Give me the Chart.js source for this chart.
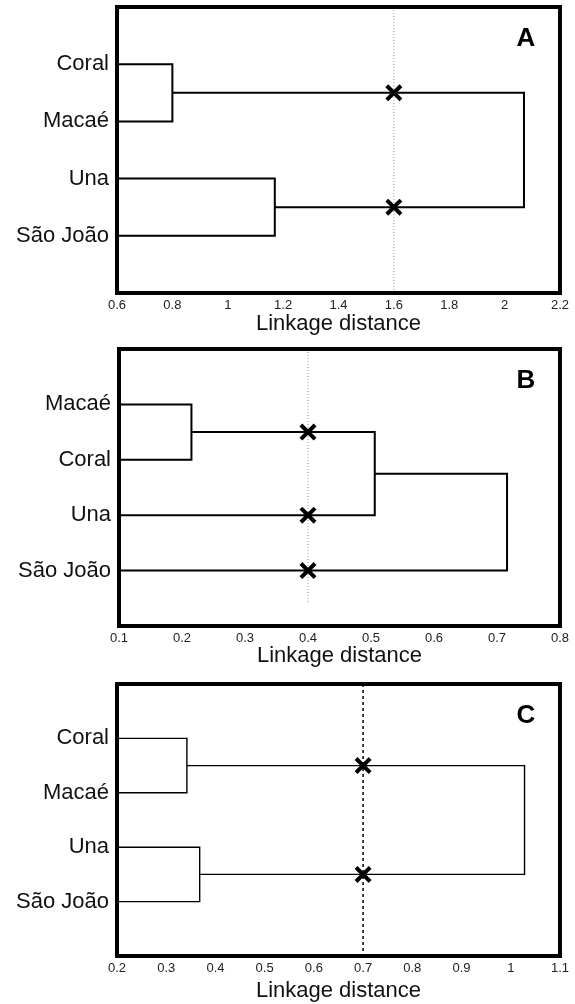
<!DOCTYPE html>
<html>
<head>
<meta charset="utf-8">
<script src="https://cdn.jsdelivr.net/npm/chart.js@4.4.1/dist/chart.umd.min.js"></script>
<style>
  body { margin: 0; background: #fff; }
  canvas { display: block; }
  #chartA { margin-top: -7px; }
</style>
</head>
<body>
<canvas id="chartA" width="575" height="342"></canvas>
<canvas id="chartB" width="575" height="335"></canvas>
<canvas id="chartC" width="575" height="334"></canvas>
<script>
// Panel A
const leavesA = ["Coral", "Macaé", "Una", "São João"];
const linksA = [[0, 1], [2, 3], [4, 5]];   // leaves 0-3, clusters 4, 5, 6
const heightsA = [0.80, 1.17, 2.07];
const cutA = 1.6;
const xTicksA = [0.6, 2.2, 0.2];           // min, max, step

// Panel B
const leavesB = ["Macaé", "Coral", "Una", "São João"];
const linksB = [[0, 1], [4, 2], [5, 3]];
const heightsB = [0.215, 0.506, 0.716];
const cutB = 0.4;
const xTicksB = [0.1, 0.8, 0.1];

// Panel C
const leavesC = ["Coral", "Macaé", "Una", "São João"];
const linksC = [[0, 1], [2, 3], [4, 5]];
const heightsC = [0.342, 0.368, 1.028];
const cutC = 0.7;
const xTicksC = [0.2, 1.1, 0.1];

const FONT = "'Liberation Sans', Arial, sans-serif";

// frame + panel letter
const panelFrame = {
  id: "panelFrame",
  afterDraw(chart, args, opts) {
    const { ctx, chartArea: a } = chart;
    ctx.save();
    ctx.strokeStyle = "#000";
    ctx.lineWidth = 4;
    ctx.strokeRect(a.left, a.top, a.right - a.left, a.bottom - a.top);
    ctx.fillStyle = "#000";
    ctx.font = "bold 26px " + FONT;
    ctx.textAlign = "center";
    ctx.textBaseline = "middle";
    ctx.fillText(opts.letter, a.right - 34, a.top + 32);
    ctx.restore();
  }
};

function buildDendro(leaves, links, heights, xmin, cut) {
  const nodes = leaves.map((_, i) => ({ x: xmin, y: i + 1 }));
  const segments = [];
  const crosses = [];
  links.forEach(([a, b], k) => {
    const h = heights[k];
    const na = nodes[a], nb = nodes[b];
    segments.push([
      { x: na.x, y: na.y }, { x: h, y: na.y },
      { x: h, y: nb.y }, { x: nb.x, y: nb.y }
    ]);
    [na, nb].forEach(n => {
      if (n.x < cut && h > cut) crosses.push({ x: cut, y: n.y });
    });
    nodes.push({ x: h, y: (na.y + nb.y) / 2 });
  });
  return { segments, crosses };
}

function makePanel(id, cfg) {
  const d = buildDendro(cfg.leaves, cfg.links, cfg.heights, cfg.xTicks[0], cfg.cut);
  const datasets = [];
  datasets.push({
    data: d.crosses,
    showLine: false,
    pointStyle: "crossRot",
    pointRadius: 10,
    pointBorderWidth: 4,
    borderColor: "#000",
    order: -1
  });
  d.segments.forEach(seg => {
    datasets.push({
      data: seg,
      showLine: true,
      borderColor: "#000",
      borderWidth: cfg.lineWidth,
      pointRadius: 0,
      tension: 0,
      order: 1
    });
  });
  datasets.push({
    data: [{ x: cfg.cut, y: 0 }, { x: cfg.cut, y: cfg.cutEnd }],
    showLine: true,
    borderColor: cfg.cutColor,
    borderWidth: cfg.cutWidth,
    borderDash: cfg.cutDash,
    pointRadius: 0,
    order: 2
  });

  new Chart(document.getElementById(id), {
    type: "scatter",
    data: { datasets },
    options: {
      responsive: false,
      animation: false,
      layout: { padding: { top: cfg.pad[0], right: cfg.pad[1], left: 0, bottom: 0 } },
      plugins: {
        legend: { display: false },
        tooltip: { enabled: false },
        panelFrame: { letter: cfg.letter }
      },
      scales: {
        x: {
          type: "linear",
          min: cfg.xTicks[0],
          max: cfg.xTicks[1],
          grid: { display: false, drawTicks: false },
          border: { display: false },
          afterFit: s => { s.height = cfg.axisH; },
          ticks: {
            stepSize: cfg.xTicks[2],
            autoSkip: false,
            maxRotation: 0,
            padding: 6,
            color: "#222",
            font: { family: FONT, size: 13, lineHeight: 1 },
            callback: v => String(+v.toFixed(2))
          },
          title: {
            display: true,
            text: "Linkage distance",
            color: "#111",
            font: { family: FONT, size: 22, lineHeight: 1 },
            padding: { top: 0, bottom: cfg.titlePad }
          }
        },
        y: {
          type: "linear",
          min: 0,
          max: 5,
          reverse: true,
          grid: { display: false, drawTicks: false },
          border: { display: false },
          afterFit: s => {
            s.width = cfg.axisW;
            s.paddingTop = 0;
            s.paddingBottom = 0;
          },
          afterBuildTicks: s => {
            s.ticks = s.ticks.filter(t => t.value >= 1 && t.value <= cfg.leaves.length);
          },
          ticks: {
            stepSize: 1,
            autoSkip: false,
            padding: 8,
            color: "#111",
            font: { family: FONT, size: 22 },
            callback: v => cfg.leaves[v - 1] || ""
          }
        }
      }
    },
    plugins: [panelFrame]
  });
}

makePanel("chartA", {
  letter: "A", leaves: leavesA, links: linksA, heights: heightsA, cut: cutA, xTicks: xTicksA,
  lineWidth: 2, cutColor: "#999", cutWidth: 1, cutDash: [1, 2], cutEnd: 5,
  pad: [14, 14], axisW: 117, axisH: 42, titlePad: 0
});
makePanel("chartB", {
  letter: "B", leaves: leavesB, links: linksB, heights: heightsB, cut: cutB, xTicks: xTicksB,
  lineWidth: 2, cutColor: "#999", cutWidth: 1, cutDash: [1, 2], cutEnd: 4.57,
  pad: [13, 13], axisW: 119, axisH: 44, titlePad: 3
});
makePanel("chartC", {
  letter: "C", leaves: leavesC, links: linksC, heights: heightsC, cut: cutC, xTicks: xTicksC,
  lineWidth: 1.4, cutColor: "#000", cutWidth: 1.5, cutDash: [3, 3], cutEnd: 5,
  pad: [14, 13], axisW: 117, axisH: 48, titlePad: 2
});
</script>
</body>
</html>
